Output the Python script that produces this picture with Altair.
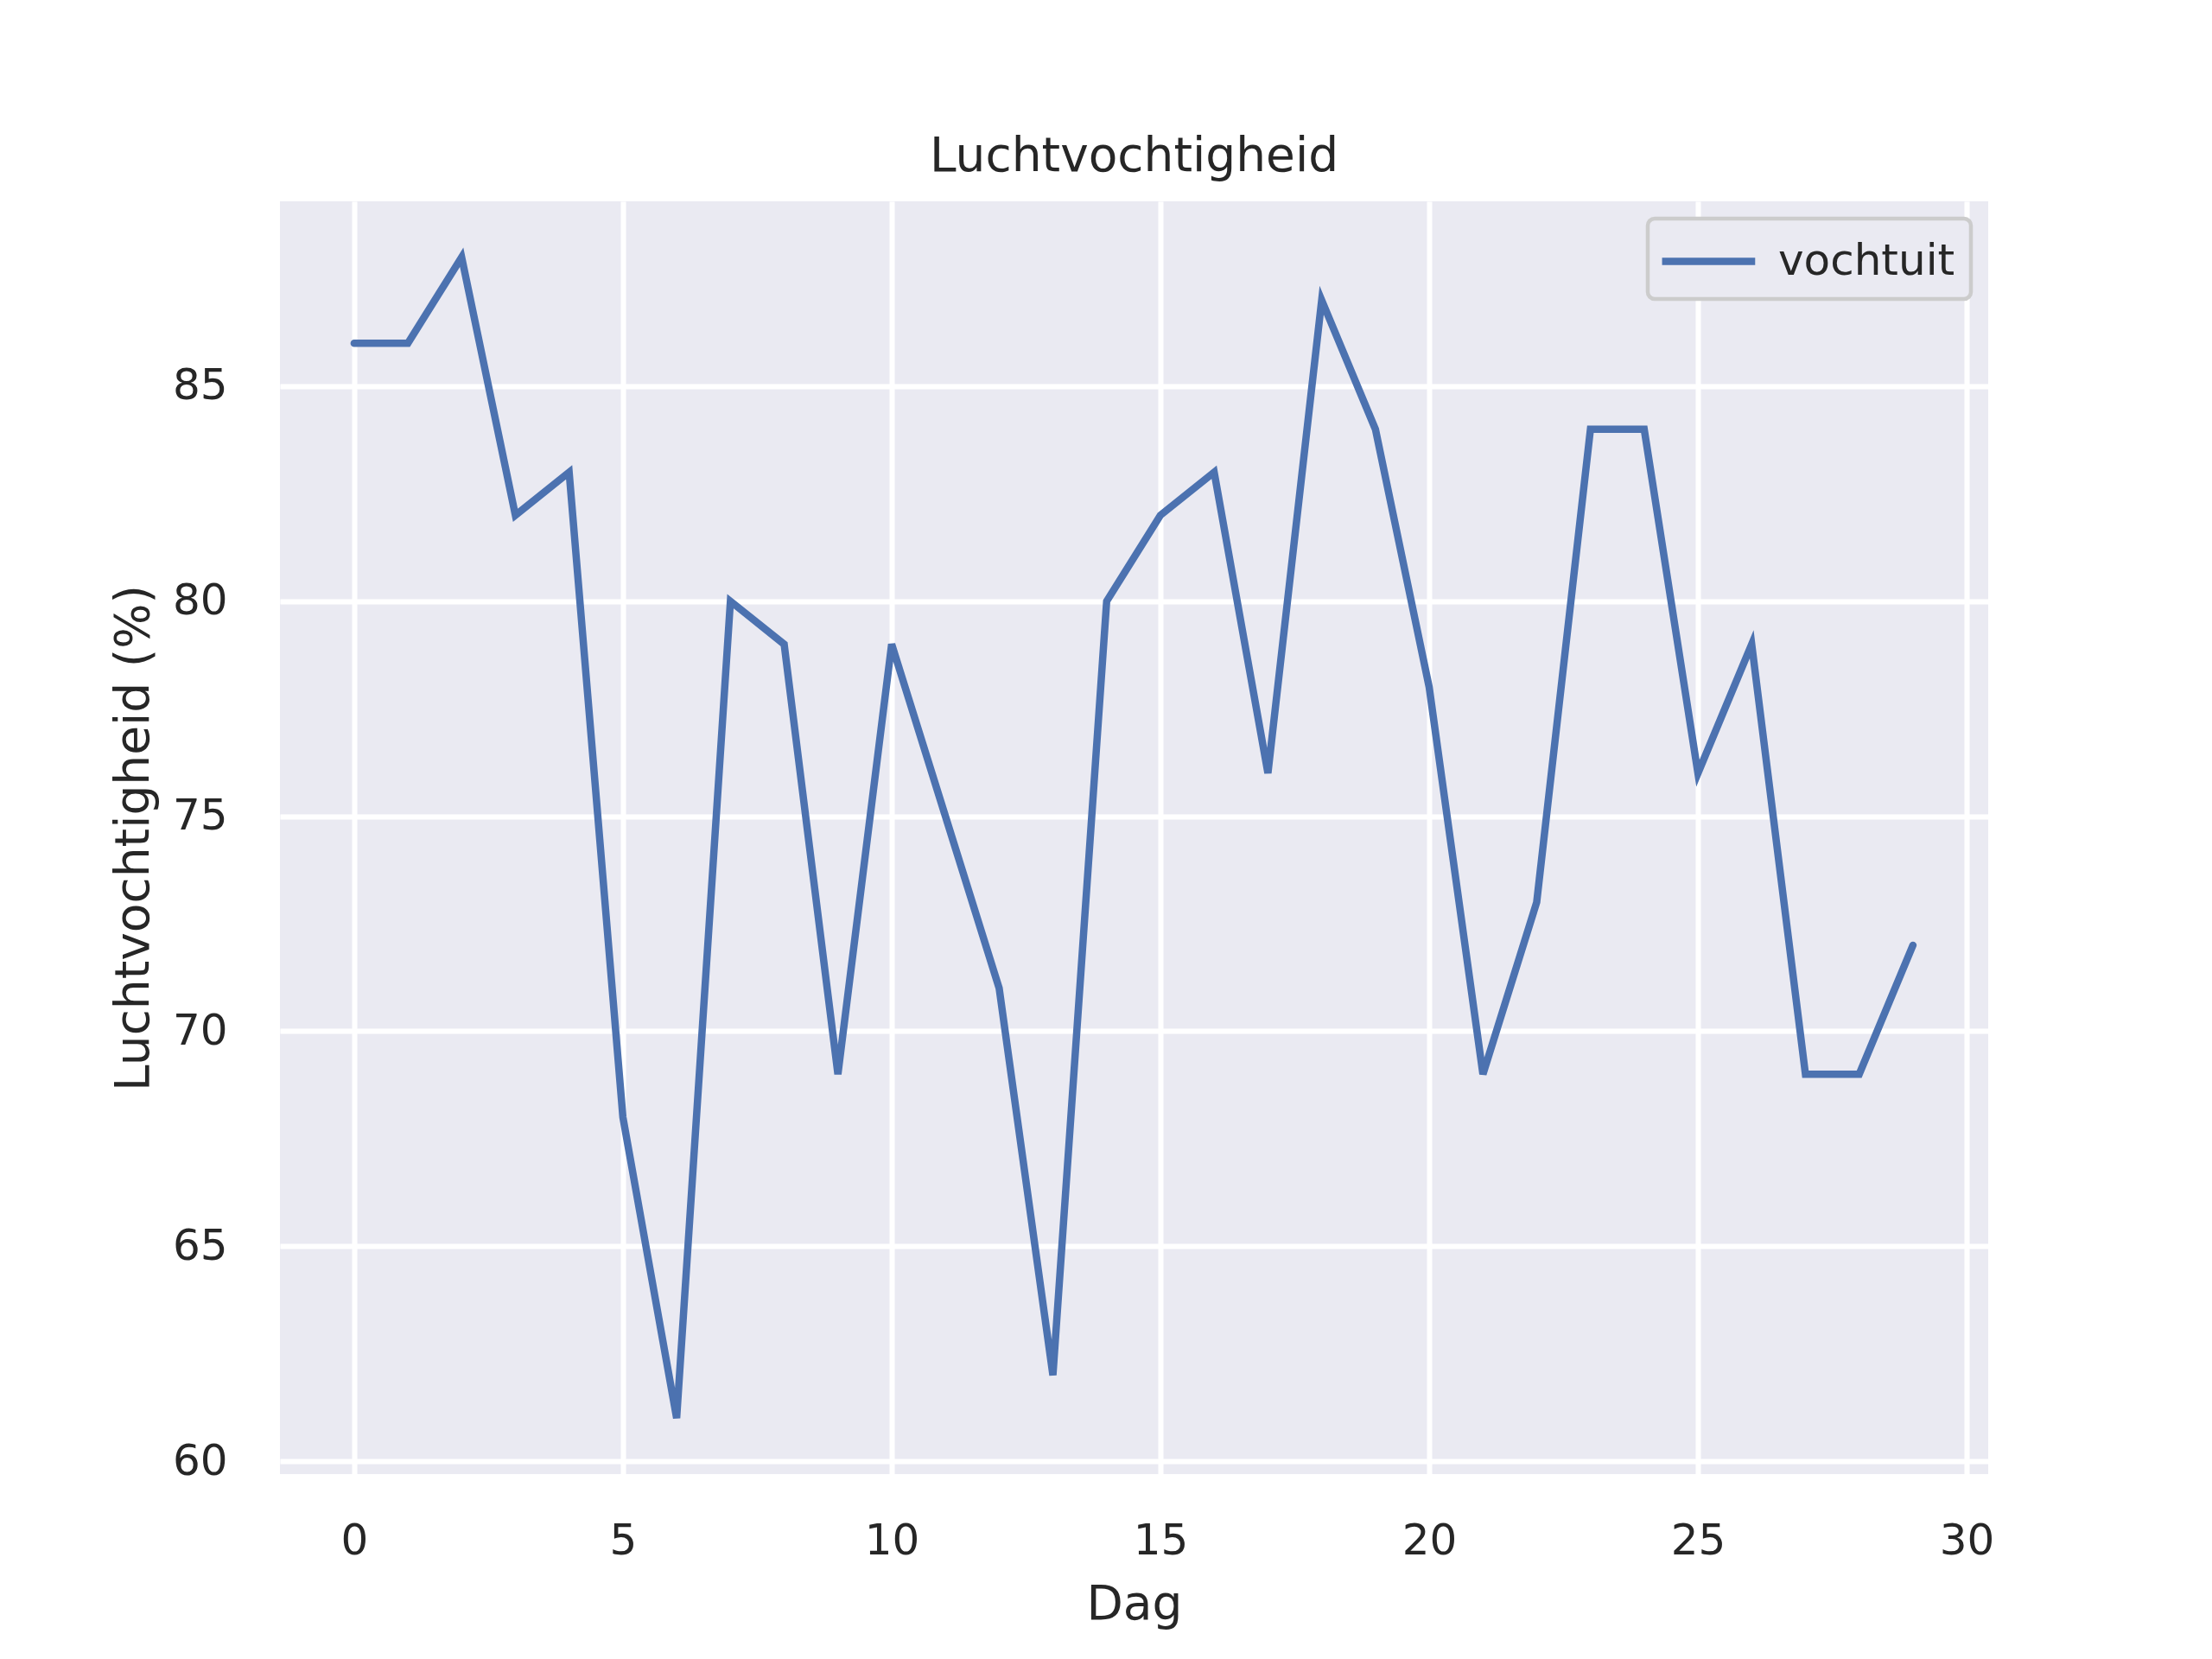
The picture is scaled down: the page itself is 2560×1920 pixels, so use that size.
import altair as alt
import pandas as pd

dag = list(range(30))
vochtuit = [86, 86, 88, 82, 83, 68, 61, 80, 79, 69,
            79, 75, 71, 62, 80, 82, 83, 76, 87, 84,
            78, 69, 73, 84, 84, 76, 79, 69, 69, 72]
series_name = "vochtuit"
x_ticks = [0, 5, 10, 15, 20, 25, 30]
y_ticks = [60, 65, 70, 75, 80, 85]

df = pd.DataFrame({"Dag": dag, "Luchtvochtigheid": vochtuit, "serie": [series_name] * len(dag)})

FONT = "DejaVu Sans"
TXT = "#262626"
W, H = 1977, 1473

chart = alt.Chart(df).mark_line(strokeWidth=8.5, strokeCap="round", strokeJoin="miter").encode(
    x=alt.X("Dag:Q",
            scale=alt.Scale(domain=[-1.38, 30.4], nice=False, zero=False),
            axis=alt.Axis(title="Dag", values=x_ticks, format="d",
                          titleX=W / 2, titleY=167, titleBaseline="alphabetic",
                          titleAnchor="middle", labelPadding=52, labelBaseline="top")),
    y=alt.Y("Luchtvochtigheid:Q",
            scale=alt.Scale(domain=[59.7, 89.3], nice=False, zero=False),
            axis=alt.Axis(title="Luchtvochtigheid (%)", values=y_ticks, format="d",
                          titleX=-153, titleY=H / 2, titleBaseline="alphabetic",
                          titleAnchor="middle", titleAngle=270, labelPadding=61)),
    color=alt.Color("serie:N", scale=alt.Scale(range=["#4c72b0"]),
                    legend=alt.Legend(title=None, orient="top-right", offset=20,
                                      symbolType="M-1,0H3", symbolSize=2900,
                                      symbolStrokeWidth=8.5, symbolOffset=-6,
                                      labelFontSize=50,
                                      labelOffset=76, padding=18, labelLimit=600,
                                      cornerRadius=8, strokeColor="#cccccc",
                                      fillColor="#eaeaf2", labelColor=TXT,
                                      labelFont=FONT)),
).properties(
    width=W, height=H,
    title=alt.TitleParams("Luchtvochtigheid", fontSize=55, font=FONT, color=TXT,
                          fontWeight="normal", anchor="middle", baseline="alphabetic",
                          offset=-20, frame="group"),
    autosize=alt.AutoSizeParams(type="none"),
    padding={"left": 316, "top": 225, "right": 240, "bottom": 190},
).configure_view(
    fill="#eaeaf2", stroke=None
).configure_axis(
    domain=False, ticks=False, grid=True, gridColor="#ffffff", gridWidth=6,
    labelFont=FONT, labelFontSize=50, labelColor=TXT,
    titleFont=FONT, titleFontSize=55, titleColor=TXT, titleFontWeight="normal",
).configure_legend(
    strokeWidth=4.5
)

chart.save("out.html", embed_options={"renderer": "svg", "actions": False})
